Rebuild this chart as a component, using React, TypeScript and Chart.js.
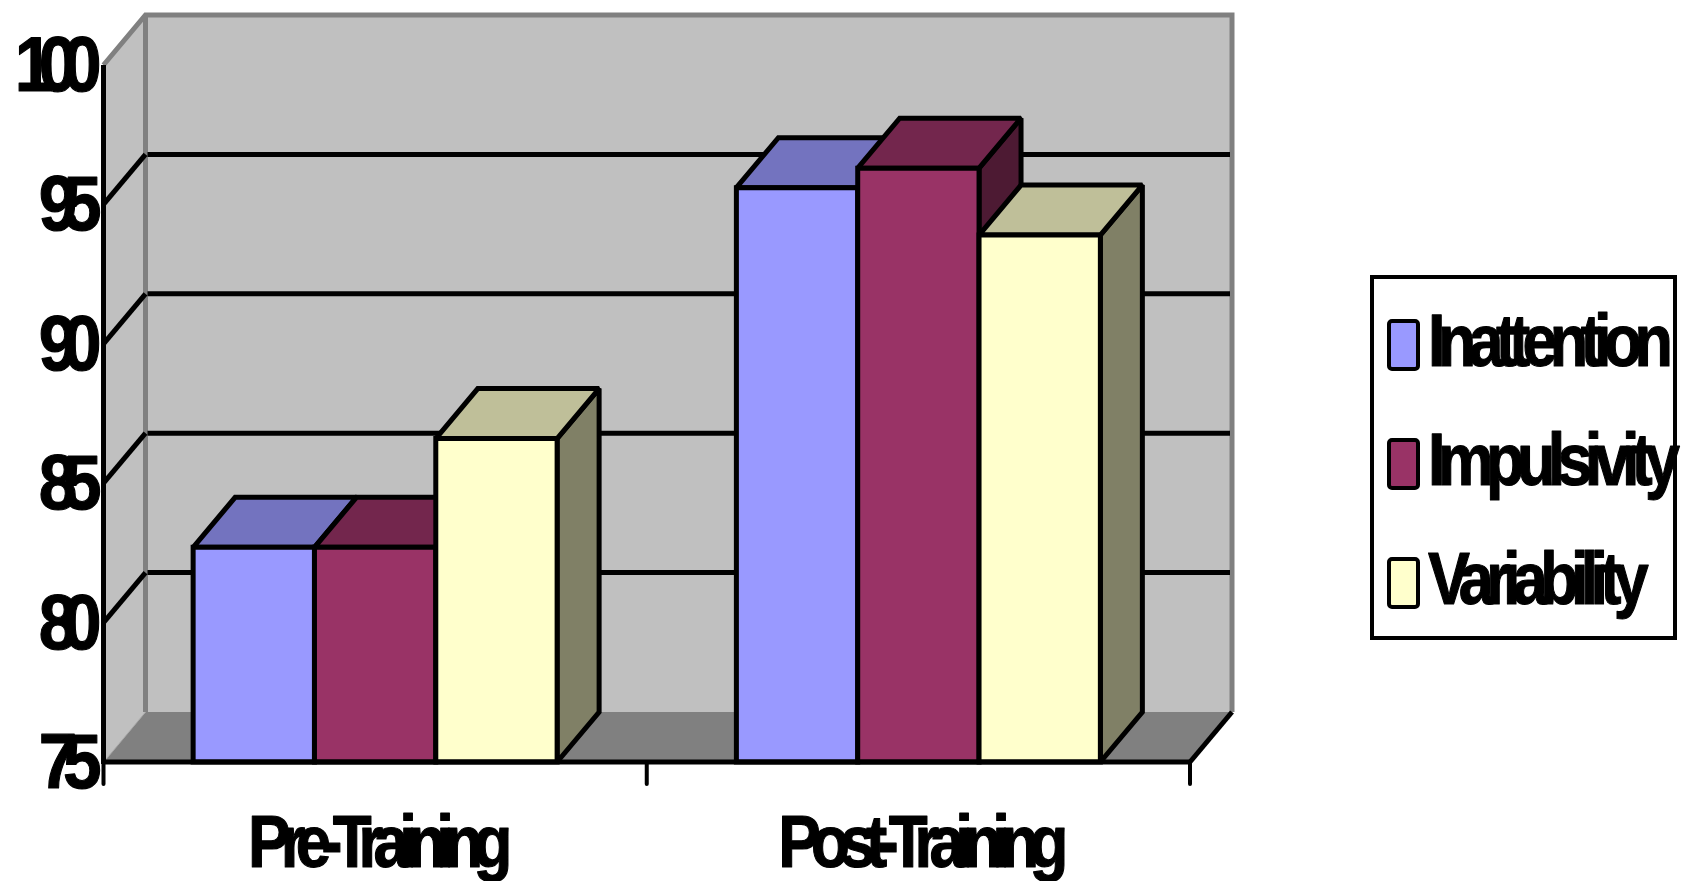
import { useEffect, useRef } from 'react';
import { Chart, registerables } from 'chart.js';

Chart.register(...registerables);

// Chart data
const categories = ['Pre-Training', 'Post-Training'];
const seriesNames = ['Inattention', 'Impulsivity', 'Variability'];
const inattention = [82.7, 95.6];
const impulsivity = [82.7, 96.3];
const variability = [86.6, 93.9];
const yTicks = [75, 80, 85, 90, 95, 100];

// Face colours per series: front, top (shaded), side (darker)
const frontColors = ['#9999FF', '#993366', '#FFFFCC'];
const topColors = ['#7373BF', '#73264D', '#BFBF99'];
const sideColors = ['#4D4D80', '#4D1A33', '#808066'];

const WALL = '#C0C0C0';
const FLOOR = '#808080';
const EDGE = '#808080';
const DX = 42;
const DY = -50;

function poly(ctx: CanvasRenderingContext2D, pts: number[][], fill?: string, stroke?: string, lw = 5) {
  ctx.beginPath();
  ctx.moveTo(pts[0][0], pts[0][1]);
  for (let i = 1; i < pts.length; i++) ctx.lineTo(pts[i][0], pts[i][1]);
  ctx.closePath();
  if (fill) {
    ctx.fillStyle = fill;
    ctx.fill();
  }
  if (stroke) {
    ctx.strokeStyle = stroke;
    ctx.lineWidth = lw;
    ctx.stroke();
  }
}

function line(ctx: CanvasRenderingContext2D, pts: number[][], color: string, lw: number, cap: CanvasLineCap = 'butt') {
  ctx.beginPath();
  ctx.moveTo(pts[0][0], pts[0][1]);
  for (let i = 1; i < pts.length; i++) ctx.lineTo(pts[i][0], pts[i][1]);
  ctx.strokeStyle = color;
  ctx.lineWidth = lw;
  ctx.lineCap = cap;
  ctx.stroke();
}

// Condensed bold text: horizontally scaled with tight tracking
function squishText(
  ctx: CanvasRenderingContext2D,
  text: string,
  x: number,
  y: number,
  align: 'left' | 'right' | 'center',
  size: number,
  sx: number,
  spacing: number
) {
  ctx.save();
  ctx.font = `bold ${size}px "Liberation Sans", Arial, sans-serif`;
  (ctx as any).letterSpacing = '0px';
  const w0 = ctx.measureText(text).width;
  const w = (w0 + spacing * (text.length - 1)) * sx;
  let left = x;
  if (align === 'right') left = x - w;
  else if (align === 'center') left = x - w / 2;
  ctx.translate(left, y);
  ctx.scale(sx, 1);
  (ctx as any).letterSpacing = `${spacing}px`;
  ctx.textAlign = 'left';
  ctx.textBaseline = 'alphabetic';
  ctx.fillStyle = '#000';
  ctx.strokeStyle = '#000';
  ctx.lineWidth = 1.2;
  ctx.lineJoin = 'round';
  ctx.fillText(text, 0, 0);
  ctx.strokeText(text, 0, 0);
  ctx.restore();
}

const depthPlugin = {
  id: 'depth3d',
  beforeDatasetsDraw(chart: any) {
    const { ctx, chartArea: a, scales } = chart;
    const ys = scales.y;
    const L = a.left, R = a.right, T = a.top, B = a.bottom;
    ctx.save();
    ctx.lineJoin = 'miter';
    ctx.miterLimit = 2;

    // back wall, side wall, floor
    ctx.fillStyle = WALL;
    ctx.fillRect(L + DX, T + DY, R - L, B - T);
    poly(ctx, [[L, T], [L + DX, T + DY], [L + DX, B + DY], [L, B]], WALL);
    poly(ctx, [[L, B], [L + DX, B + DY], [R + DX, B + DY], [R, B]], FLOOR);
    line(ctx, [[L + 2, B - 2], [L + DX, B + DY]], '#A8A8A8', 1);

    // wall edges
    line(ctx, [[L, T], [L + DX, T + DY], [R + DX, T + DY], [R + DX, B + DY]], EDGE, 5);
    line(ctx, [[L + DX, T + DY], [L + DX, B + DY]], EDGE, 5);

    // gridlines across side and back walls
    for (const v of yTicks) {
      if (v === ys.min || v === ys.max) continue;
      const py = ys.getPixelForValue(v);
      line(ctx, [[L, py], [L + DX, py + DY]], '#000', 5);
      line(ctx, [[L + DX + 2, py + DY], [R + DX - 2, py + DY]], '#000', 5);
    }

    // floor right edge, value axis
    line(ctx, [[R, B], [R + DX, B + DY]], '#000', 5);
    line(ctx, [[L, T], [L, B + 2]], '#000', 5);

    // category tick marks
    const n = categories.length;
    for (let i = 0; i <= n; i++) {
      const px = L + ((R - L) * i) / n;
      line(ctx, [[px, B], [px, B + 22]], '#000', 4, 'round');
    }
    ctx.lineCap = 'butt';

    // columns, drawn left to right so nearer faces overlap
    const bars: any[] = [];
    chart.data.datasets.forEach((_: any, di: number) => {
      const meta = chart.getDatasetMeta(di);
      meta.data.forEach((el: any) => {
        const p = el.getProps(['x', 'y', 'base', 'width'], true);
        const base = Math.min(p.base, B);
        bars.push({ l: p.x - p.width / 2, r: p.x + p.width / 2, t: p.y, b: base, di });
      });
    });
    bars.sort((p: any, q: any) => p.l - q.l);
    for (const bar of bars) {
      const { l, r, t, b, di } = bar;
      poly(ctx, [[r, t], [r + DX, t + DY], [r + DX, b + DY], [r, b]], sideColors[di], '#000', 5);
      poly(ctx, [[l, t], [l + DX, t + DY], [r + DX, t + DY], [r, t]], topColors[di], '#000', 5);
      poly(ctx, [[l, t], [r, t], [r, b], [l, b]], frontColors[di], '#000', 5);
    }
    line(ctx, [[L, B], [R, B]], '#000', 5);
    ctx.restore();
    return false;
  },
  afterDraw(chart: any) {
    const { ctx, chartArea: a, scales } = chart;
    const ys = scales.y;
    const xs = scales.x;

    // value axis labels
    for (const v of yTicks) {
      const py = ys.getPixelForValue(v);
      squishText(ctx, String(v), a.left - 2, py + 26, 'right', 77, 0.9, -16);
    }

    // category labels
    categories.forEach((c, i) => {
      const px = xs.getPixelForValue(i) + 5;
      squishText(ctx, c, px, a.bottom + 105, 'center', 75, 0.85, -11.5);
    });

    // legend
    ctx.save();
    ctx.lineJoin = 'miter';
    ctx.strokeStyle = '#000';
    ctx.lineWidth = 4;
    ctx.strokeRect(1372, 277, 303, 361);
    const rowBase = [366, 485, 604];
    chart.data.datasets.forEach((ds: any, i: number) => {
      const by = rowBase[i] - 45;
      ctx.beginPath();
      ctx.roundRect(1389, by, 29, 48, 3);
      ctx.fillStyle = frontColors[i];
      ctx.fill();
      ctx.lineWidth = 4;
      ctx.strokeStyle = '#000';
      ctx.stroke();
      squishText(ctx, ds.label, 1428, rowBase[i], 'left', 74, 0.85, -9);
    });
    ctx.restore();
  },
};

export default function App() {
  const canvasRef = useRef<HTMLCanvasElement | null>(null);

  useEffect(() => {
    const canvas = canvasRef.current;
    if (!canvas) return;
    const series = [inattention, impulsivity, variability];
    const chart = new Chart(canvas, {
      type: 'bar',
      data: {
        labels: categories,
        datasets: seriesNames.map((name, i) => ({
          label: name,
          data: series[i],
          backgroundColor: frontColors[i],
          borderColor: '#000',
          borderWidth: 5,
          base: yTicks[0],
          categoryPercentage: 0.67,
          barPercentage: 1,
        })),
      },
      options: {
        animation: false,
        responsive: true,
        maintainAspectRatio: false,
        events: [],
        layout: { padding: { left: 103.5, right: 501, top: 65, bottom: 119 } },
        scales: {
          x: { display: false, grid: { display: false } },
          y: {
            display: false,
            min: 75,
            max: 100,
            ticks: { stepSize: 5 },
            grid: { display: false },
          },
        },
        plugins: {
          legend: { display: false },
          tooltip: { enabled: false },
        },
      },
      plugins: [depthPlugin],
    });
    return () => chart.destroy();
  }, []);

  return (
    <div style={{ position: 'fixed', left: 0, top: 0, width: 1691, height: 881, background: '#fff' }}>
      <canvas ref={canvasRef} />
    </div>
  );
}
